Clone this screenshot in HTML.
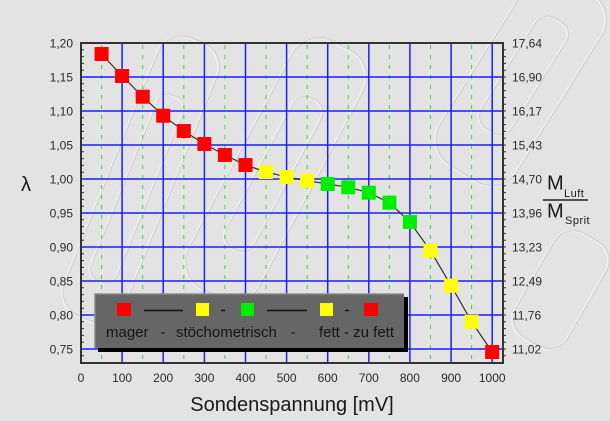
<!DOCTYPE html>
<html><head><meta charset="utf-8"><style>
html,body{margin:0;padding:0;background:#e3e3e3;}
svg{display:block;font-family:"Liberation Sans",Arial,sans-serif;}
</style></head><body>
<svg width="610" height="421" viewBox="0 0 610 421" xmlns="http://www.w3.org/2000/svg">
<rect x="0" y="0" width="610" height="421" fill="#e3e3e3"/>
<!-- faint embossed shapes -->
<g fill="none" stroke-linecap="round" opacity="0.55">
 <g transform="translate(140,180) rotate(-68)">
  <rect x="-150" y="-32" width="300" height="64" rx="26" stroke="#f8f8f8" stroke-width="2"/>
  <rect x="-149" y="-31" width="300" height="64" rx="26" stroke="#bdbdbd" stroke-width="1"/>
  <rect x="-110" y="-14" width="200" height="28" rx="12" stroke="#f8f8f8" stroke-width="2"/>
  <rect x="-109" y="-13" width="200" height="28" rx="12" stroke="#c0c0c0" stroke-width="1"/>
 </g>
 <g transform="translate(275,170) rotate(-62)">
  <rect x="-140" y="-40" width="280" height="80" rx="30" stroke="#f8f8f8" stroke-width="2"/>
  <rect x="-139" y="-39" width="280" height="80" rx="30" stroke="#bdbdbd" stroke-width="1"/>
  <rect x="-90" y="-16" width="170" height="32" rx="14" stroke="#f8f8f8" stroke-width="2"/>
  <rect x="-89" y="-15" width="170" height="32" rx="14" stroke="#c0c0c0" stroke-width="1"/>
 </g>
 <g transform="translate(520,80) rotate(-58)">
  <rect x="-110" y="-45" width="220" height="90" rx="30" stroke="#f8f8f8" stroke-width="2"/>
  <rect x="-109" y="-44" width="220" height="90" rx="30" stroke="#bdbdbd" stroke-width="1"/>
  <rect x="-60" y="-18" width="130" height="36" rx="14" stroke="#f8f8f8" stroke-width="2"/>
  <rect x="-59" y="-17" width="130" height="36" rx="14" stroke="#c0c0c0" stroke-width="1"/>
 </g>
 <g transform="translate(560,290) rotate(-60)">
  <rect x="-60" y="-30" width="120" height="60" rx="22" stroke="#f8f8f8" stroke-width="2"/>
  <rect x="-59" y="-29" width="120" height="60" rx="22" stroke="#bdbdbd" stroke-width="1"/>
 </g>
</g>

<!-- green dashed verticals -->
<g stroke="#3ad83a" stroke-width="1" stroke-dasharray="4,6">
 <line x1="101.6" y1="45" x2="101.6" y2="362"/>
 <line x1="142.7" y1="45" x2="142.7" y2="362"/>
 <line x1="183.8" y1="45" x2="183.8" y2="362"/>
 <line x1="224.9" y1="45" x2="224.9" y2="362"/>
 <line x1="266.0" y1="45" x2="266.0" y2="362"/>
 <line x1="307.2" y1="45" x2="307.2" y2="362"/>
 <line x1="348.3" y1="45" x2="348.3" y2="362"/>
 <line x1="389.4" y1="45" x2="389.4" y2="362"/>
 <line x1="430.5" y1="45" x2="430.5" y2="362"/>
 <line x1="471.6" y1="45" x2="471.6" y2="362"/>
</g>
<!-- blue grid -->
<g stroke="#1e1eff" stroke-width="1.5">
 <line x1="122.1" y1="43" x2="122.1" y2="363"/>
 <line x1="163.2" y1="43" x2="163.2" y2="363"/>
 <line x1="204.4" y1="43" x2="204.4" y2="363"/>
 <line x1="245.5" y1="43" x2="245.5" y2="363"/>
 <line x1="286.6" y1="43" x2="286.6" y2="363"/>
 <line x1="327.7" y1="43" x2="327.7" y2="363"/>
 <line x1="368.8" y1="43" x2="368.8" y2="363"/>
 <line x1="409.9" y1="43" x2="409.9" y2="363"/>
 <line x1="451.1" y1="43" x2="451.1" y2="363"/>
 <line x1="492.2" y1="43" x2="492.2" y2="363"/>
 <line x1="81" y1="77" x2="503" y2="77"/>
 <line x1="81" y1="111" x2="503" y2="111"/>
 <line x1="81" y1="145" x2="503" y2="145"/>
 <line x1="81" y1="179" x2="503" y2="179"/>
 <line x1="81" y1="213" x2="503" y2="213"/>
 <line x1="81" y1="247" x2="503" y2="247"/>
 <line x1="81" y1="281" x2="503" y2="281"/>
 <line x1="81" y1="315" x2="503" y2="315"/>
 <line x1="81" y1="349" x2="503" y2="349"/>
</g>

<!-- frame -->
<rect x="81" y="43" width="422" height="320" fill="none" stroke="#333" stroke-width="2"/>
<!-- minor ticks left (inside) and right (outside) -->
<g stroke="#333" stroke-width="1">
 <path d="M81 49.8h3M81 56.6h3M81 63.4h3M81 70.2h3M81 83.8h3M81 90.6h3M81 97.4h3M81 104.2h3M81 117.8h3M81 124.6h3M81 131.4h3M81 138.2h3M81 151.8h3M81 158.6h3M81 165.4h3M81 172.2h3M81 185.8h3M81 192.6h3M81 199.4h3M81 206.2h3M81 219.8h3M81 226.6h3M81 233.4h3M81 240.2h3M81 253.8h3M81 260.6h3M81 267.4h3M81 274.2h3M81 287.8h3M81 294.6h3M81 301.4h3M81 308.2h3M81 321.8h3M81 328.6h3M81 335.4h3M81 342.2h3M81 355.8h3"/>
 <path d="M503 49.8h3M503 56.6h3M503 63.4h3M503 70.2h3M503 77h3M503 83.8h3M503 90.6h3M503 97.4h3M503 104.2h3M503 111h3M503 117.8h3M503 124.6h3M503 131.4h3M503 138.2h3M503 145h3M503 151.8h3M503 158.6h3M503 165.4h3M503 172.2h3M503 179h3M503 185.8h3M503 192.6h3M503 199.4h3M503 206.2h3M503 213h3M503 219.8h3M503 226.6h3M503 233.4h3M503 240.2h3M503 247h3M503 253.8h3M503 260.6h3M503 267.4h3M503 274.2h3M503 281h3M503 287.8h3M503 294.6h3M503 301.4h3M503 308.2h3M503 315h3M503 321.8h3M503 328.6h3M503 335.4h3M503 342.2h3M503 349h3M503 355.8h3"/>
</g>

<!-- data line -->
<polyline fill="none" stroke="#303030" stroke-width="1.2" points="101.6,54 122.1,76 142.7,96.7 163.2,115.7 183.8,131 204.4,144 224.9,155 245.5,165 266,172 286.6,177 307.2,180.7 327.7,184 348.3,187.3 368.8,192.7 389.4,202.7 409.9,222 430.5,250.7 451.1,285.7 471.6,321.7 492.2,352"/>
<!-- markers -->
<g>
 <rect x="94.6" y="47" width="14" height="14" fill="#ff0000"/>
 <rect x="115.1" y="69" width="14" height="14" fill="#ff0000"/>
 <rect x="135.7" y="89.7" width="14" height="14" fill="#ff0000"/>
 <rect x="156.2" y="108.7" width="14" height="14" fill="#ff0000"/>
 <rect x="176.8" y="124" width="14" height="14" fill="#ff0000"/>
 <rect x="197.4" y="137" width="14" height="14" fill="#ff0000"/>
 <rect x="217.9" y="148" width="14" height="14" fill="#ff0000"/>
 <rect x="238.5" y="158" width="14" height="14" fill="#ff0000"/>
 <rect x="259" y="165" width="14" height="14" fill="#ffff00"/>
 <rect x="279.6" y="170" width="14" height="14" fill="#ffff00"/>
 <rect x="300.2" y="173.7" width="14" height="14" fill="#ffff00"/>
 <rect x="320.7" y="177" width="14" height="14" fill="#00ee00"/>
 <rect x="341.3" y="180.3" width="14" height="14" fill="#00ee00"/>
 <rect x="361.8" y="185.7" width="14" height="14" fill="#00ee00"/>
 <rect x="382.4" y="195.7" width="14" height="14" fill="#00ee00"/>
 <rect x="402.9" y="215" width="14" height="14" fill="#00ee00"/>
 <rect x="423.5" y="243.7" width="14" height="14" fill="#ffff00"/>
 <rect x="444.1" y="278.7" width="14" height="14" fill="#ffff00"/>
 <rect x="464.6" y="314.7" width="14" height="14" fill="#ffff00"/>
 <rect x="485.2" y="345" width="14" height="14" fill="#ff0000"/>
</g>

<!-- legend -->
<rect x="98" y="297" width="310" height="55" fill="#000"/>
<rect x="95" y="294" width="309" height="54" fill="#666666"/>
<path d="M95 348V294H404" fill="none" stroke="#8a8a8a" stroke-width="1.5"/>
<rect x="117" y="303" width="14" height="13" fill="#ff0000"/>
<line x1="144" y1="310.5" x2="183" y2="310.5" stroke="#111" stroke-width="1.5"/>
<rect x="196" y="303" width="13" height="13" fill="#ffff00"/>
<line x1="221" y1="310.5" x2="225" y2="310.5" stroke="#111" stroke-width="1.5"/>
<rect x="241" y="303" width="13" height="13" fill="#00ee00"/>
<line x1="267" y1="310.5" x2="307" y2="310.5" stroke="#111" stroke-width="1.5"/>
<rect x="320" y="303" width="13" height="13" fill="#ffff00"/>
<line x1="345" y1="310.5" x2="349" y2="310.5" stroke="#111" stroke-width="1.5"/>
<rect x="364" y="303" width="14" height="13" fill="#ff0000"/>
<g font-size="15" fill="#151515">
 <text x="106" y="337">mager</text>
 <text x="163" y="337" text-anchor="middle">-</text>
 <text x="176" y="337">stöchometrisch</text>
 <text x="293" y="337" text-anchor="middle">-</text>
 <text x="319" y="337">fett</text>
 <text x="344" y="337">- zu fett</text>
</g>

<!-- left tick labels -->
<g font-size="12" fill="#2a2a2a" text-anchor="end">
 <text x="73" y="47.5">1,20</text>
 <text x="73" y="81.5">1,15</text>
 <text x="73" y="115.5">1,10</text>
 <text x="73" y="149.5">1,05</text>
 <text x="73" y="183.5">1,00</text>
 <text x="73" y="217.5">0,95</text>
 <text x="73" y="251.5">0,90</text>
 <text x="73" y="285.5">0,85</text>
 <text x="73" y="319.5">0,80</text>
 <text x="73" y="353.5">0,75</text>
</g>
<!-- right tick labels -->
<g font-size="12" fill="#2a2a2a">
 <text x="512" y="47.5">17,64</text>
 <text x="512" y="81.5">16,90</text>
 <text x="512" y="115.5">16,17</text>
 <text x="512" y="149.5">15,43</text>
 <text x="512" y="183.5">14,70</text>
 <text x="512" y="217.5">13,96</text>
 <text x="512" y="251.5">13,23</text>
 <text x="512" y="285.5">12,49</text>
 <text x="512" y="319.5">11,76</text>
 <text x="512" y="353.5">11,02</text>
</g>
<!-- x tick labels -->
<g font-size="12" fill="#2a2a2a" text-anchor="middle">
 <text x="81" y="382">0</text>
 <text x="122.1" y="382">100</text>
 <text x="163.2" y="382">200</text>
 <text x="204.4" y="382">300</text>
 <text x="245.5" y="382">400</text>
 <text x="286.6" y="382">500</text>
 <text x="327.7" y="382">600</text>
 <text x="368.8" y="382">700</text>
 <text x="409.9" y="382">800</text>
 <text x="451.1" y="382">900</text>
 <text x="492.2" y="382">1000</text>
</g>
<text x="292" y="411" font-size="20" fill="#1a1a1a" text-anchor="middle">Sondenspannung [mV]</text>
<text x="26" y="191" font-size="20" fill="#1a1a1a" text-anchor="middle">λ</text>
<!-- right fraction label -->
<text x="547" y="189.5" font-size="20" fill="#1a1a1a">M</text>
<text x="564" y="197" font-size="11" fill="#1a1a1a" letter-spacing="0.5">Luft</text>
<line x1="543" y1="200" x2="588" y2="200" stroke="#222" stroke-width="1.5"/>
<text x="547" y="217.5" font-size="20" fill="#1a1a1a">M</text>
<text x="565" y="224" font-size="11" fill="#1a1a1a" letter-spacing="0.5">Sprit</text>
</svg>
</body></html>
